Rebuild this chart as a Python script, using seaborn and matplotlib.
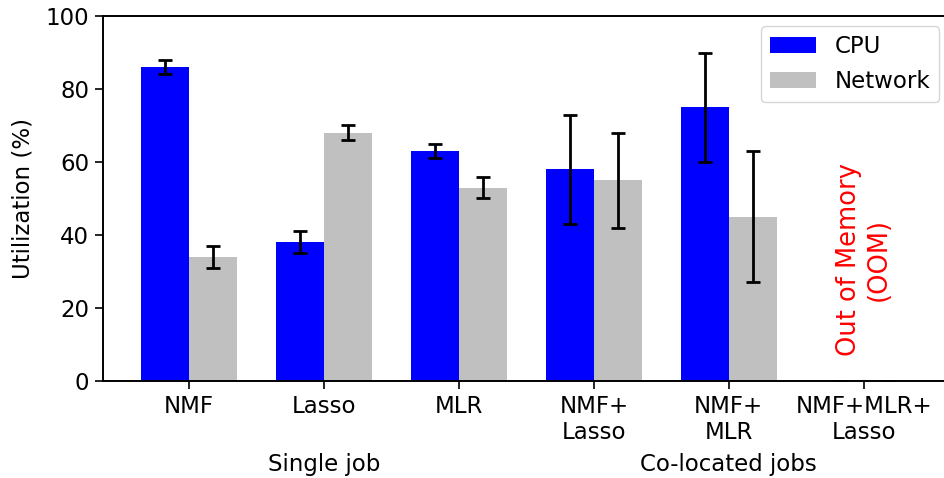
import matplotlib
matplotlib.use("Agg")
import matplotlib.pyplot as plt
import matplotlib.transforms as mtransforms
import pandas as pd
import seaborn as sns

jobs = ["NMF", "Lasso", "MLR", "NMF+\nLasso", "NMF+\nMLR", "NMF+MLR+\nLasso"]
cpu_mean = [86, 38, 63, 58, 75, 0]
cpu_err = [2, 3, 2, 15, 15, 0]
net_mean = [34, 68, 53, 55, 45, 0]
net_err = [3, 2, 3, 13, 18, 0]
metrics = ["CPU", "Network"]
colors = {"CPU": "blue", "Network": "silver"}

df = pd.DataFrame({
    "job": jobs * 2,
    "metric": ["CPU"] * len(jobs) + ["Network"] * len(jobs),
    "util": cpu_mean + net_mean,
})
errs = {"CPU": cpu_err, "Network": net_err}

FS = 16.5

sns.set_style("ticks")
plt.rcParams["font.family"] = ["DejaVu Sans"]
plt.rcParams.update({
    "text.color": "black",
    "axes.labelcolor": "black",
    "xtick.color": "black",
    "ytick.color": "black",
    "axes.edgecolor": "black",
})

fig = plt.figure(figsize=(9.45, 4.78), dpi=100)
ax = fig.add_axes([0.109, 0.203, 0.896, 0.7635])

sns.barplot(data=df, x="job", y="util", hue="metric", order=jobs,
            hue_order=metrics, palette=colors, width=0.71, saturation=1,
            errorbar=None, ax=ax, linewidth=0)

for cont, m in zip(ax.containers, metrics):
    xs = [p.get_x() + p.get_width() / 2 for p in cont.patches]
    hs = [p.get_height() for p in cont.patches]
    ax.errorbar(xs, hs, yerr=errs[m], fmt="none", ecolor="black",
                elinewidth=2, capsize=5, capthick=2)

ax.set_ylim(0, 100)
ax.set_xlim(-0.637, 5.637)
ax.set_yticks([0, 20, 40, 60, 80, 100])
ax.tick_params(axis="both", labelsize=FS, direction="out", length=6,
               width=1.2, pad=4)
ax.set_xlabel("")
ax.set_ylabel("Utilization (%)", fontsize=FS, labelpad=8)
for s in ax.spines.values():
    s.set_linewidth(1.4)

ax.legend(title=None, fontsize=FS, loc="upper right", frameon=True,
          handlelength=2.0, labelspacing=0.5, borderaxespad=0.45)

trans = mtransforms.blended_transform_factory(ax.transData, ax.transAxes)
ax.text(1, -0.23, "Single job", ha="center", va="center", fontsize=FS,
        transform=trans)
ax.text(4, -0.23, "Co-located jobs", ha="center", va="center",
        fontsize=FS, transform=trans)

ax.text(5, 33.4, "Out of Memory\n(OOM)", rotation=90, color="red",
        ha="center", va="center", fontsize=18.5, multialignment="center")

fig.savefig("out.png", dpi=100)
